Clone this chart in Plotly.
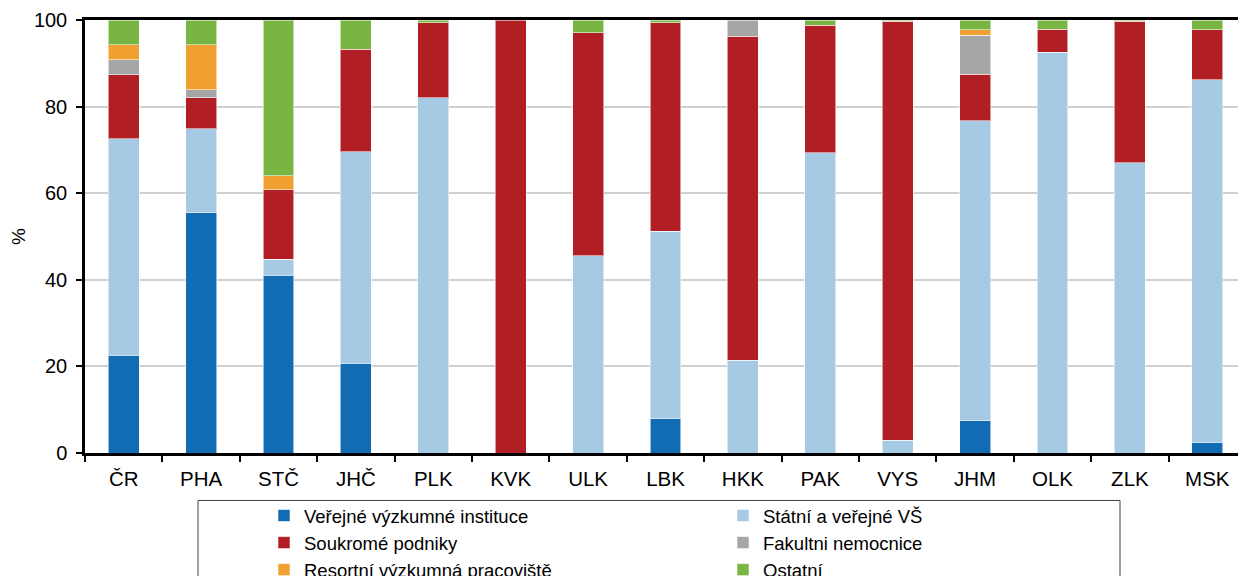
import plotly.graph_objects as go

categories = ["ČR", "PHA", "STČ", "JHČ", "PLK", "KVK", "ULK", "LBK", "HKK", "PAK", "VYS", "JHM", "OLK", "ZLK", "MSK"]

verejne_vyzkumne = [22.6, 55.5, 41.0, 20.7, 0, 0, 0, 7.9, 0, 0, 0, 7.4, 0, 0, 2.5]
statni_vs = [50.0, 19.4, 3.7, 48.9, 82.0, 0, 45.5, 43.3, 21.4, 69.3, 2.9, 69.3, 92.6, 67.0, 83.7]
soukrome = [14.7, 7.2, 16.1, 23.6, 17.4, 100.0, 51.5, 48.2, 74.9, 29.5, 96.8, 10.8, 5.3, 32.7, 11.6]
fakultni = [3.5, 1.8, 0, 0, 0, 0, 0, 0, 3.7, 0, 0, 9.0, 0, 0, 0]
resortni = [3.5, 10.4, 3.2, 0, 0, 0, 0, 0, 0, 0, 0, 1.3, 0, 0, 0]
ostatni = [5.7, 5.7, 36.0, 6.8, 0.6, 0, 3.0, 0.6, 0, 1.2, 0.3, 2.2, 2.1, 0.3, 2.2]

series = [
    ("Veřejné výzkumné instituce", verejne_vyzkumne, "#116CB4"),
    ("Státní a veřejné VŠ", statni_vs, "#A6CAE3"),
    ("Soukromé podniky", soukrome, "#B11F24"),
    ("Fakultni nemocnice", fakultni, "#A6A6A6"),
    ("Resortní výzkumná pracoviště", resortni, "#F0A030"),
    ("Ostatní", ostatni, "#79B542"),
]

FONT = "Liberation Sans, Arial, sans-serif"

# page body has an 8px margin; figure is sized so the page fits the 1246x576 window
W, H = 1238, 568

fig = go.Figure()
for name, vals, color in series:
    fig.add_trace(go.Bar(
        x=categories,
        y=[v if v else None for v in vals],
        name=name,
        marker=dict(color=color, line=dict(color="rgba(255,255,255,0.55)", width=1)),
        width=0.4,
    ))

fig.update_layout(
    barmode="stack",
    width=W, height=H,
    margin=dict(l=77, r=0, t=12, b=122.5, autoexpand=False),
    paper_bgcolor="white", plot_bgcolor="white",
    font=dict(family=FONT, size=19, color="black"),
    showlegend=True,
    legend=dict(
        orientation="h",
        xref="container", yref="container",
        x=256 / W, y=1 - 489 / H,
        xanchor="left", yanchor="top",
        entrywidth=414, entrywidthmode="pixels",
        font=dict(family=FONT, size=18.5, color="black"),
        traceorder="normal",
        bgcolor="rgba(0,0,0,0)",
        itemclick=False,
    ),
    shapes=[dict(
        type="rect", xref="paper", yref="paper",
        x0=(198 - 85) / 1161, x1=(1120 - 85) / 1161,
        y0=-0.35, y1=(453.5 - 501) / 433.5,
        line=dict(color="#404040", width=1), fillcolor="rgba(0,0,0,0)", layer="below",
    )],
)

fig.update_xaxes(
    showline=True, linecolor="black", linewidth=2.5, mirror=True,
    ticks="outside", tickson="boundaries", ticklen=6, tickwidth=2, tickcolor="black",
    tickfont=dict(family=FONT, size=20.5, color="black"),
    ticklabelstandoff=6,
    showgrid=False,
)
fig.update_yaxes(
    range=[0, 100], dtick=20, tickmode="linear",
    showline=True, linecolor="black", linewidth=2.5,
    ticks="outside", ticklen=6, tickwidth=2, tickcolor="black",
    tickfont=dict(family=FONT, size=20, color="black"),
    ticklabelstandoff=5,
    showgrid=True, gridcolor="#D0D0D0", gridwidth=2,
    zeroline=False,
    title=dict(text="%", font=dict(family=FONT, size=19, color="black"), standoff=14),
)

fig.write_html("out.html")
